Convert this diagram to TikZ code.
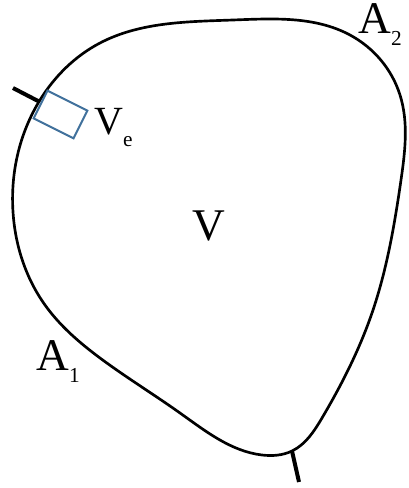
\documentclass[tikz,border=0pt]{standalone}
\usepackage{fontspec}
\setmainfont{Liberation Serif}
\usetikzlibrary{hobby}
\definecolor{boxblue}{HTML}{41719C}
\tikzset{
  rim/.style={line width=2pt},
  stub/.style={line width=3pt},
  elem/.style={draw=boxblue, line width=1.5pt, inner sep=0pt},
  lbl/.style={inner sep=0pt, anchor=base west, font=\fontsize{34}{34}\selectfont},
}
\newcommand{\lowsub}[1]{\raisebox{-9pt}{\fontsize{16}{16}\selectfont #1}}

\begin{document}
\begin{tikzpicture}[x=0.75pt, y=-0.75pt]
    \useasboundingbox (0,0) rectangle (408,488);

    % outer boundary of the volume
    \draw[rim, use Hobby shortcut, closed=true]
      (40,100) .. (100,43) .. (233,20) .. (350,35) .. (400,95) .. (401,180)
      .. (372,313) .. (322,418) .. (292,451)
      .. (262,455) .. (180,413) .. (100,358) .. (45,305) .. (13,212);

    % small element on the boundary
    \node[elem, rotate=-26.6, minimum width=33.5pt, minimum height=23.2pt] (vebox) at (60.5,114.5) {};

    % stubs crossing the boundary
    \coordinate (stubA) at (39,101.5);  \coordinate (stubAout) at (13,88);
    \coordinate (stubB) at (292,451);   \coordinate (stubBout) at (299,482);
    \draw[stub] (stubAout) -- (stubA);
    \draw[stub] (stubB) -- (stubBout);

    % labels
    \node[lbl, font=\fontsize{30}{30}\selectfont] (velbl) at (94,135) {V\lowsub{e}};
    \node[lbl, anchor=base] (vlbl) at (209,240) {V};
    \node[lbl] (aonelbl) at (36,370) {A\lowsub{1}};
    \node[lbl] (atwolbl) at (358,34) {A\lowsub{2}};
\end{tikzpicture}
\end{document}
